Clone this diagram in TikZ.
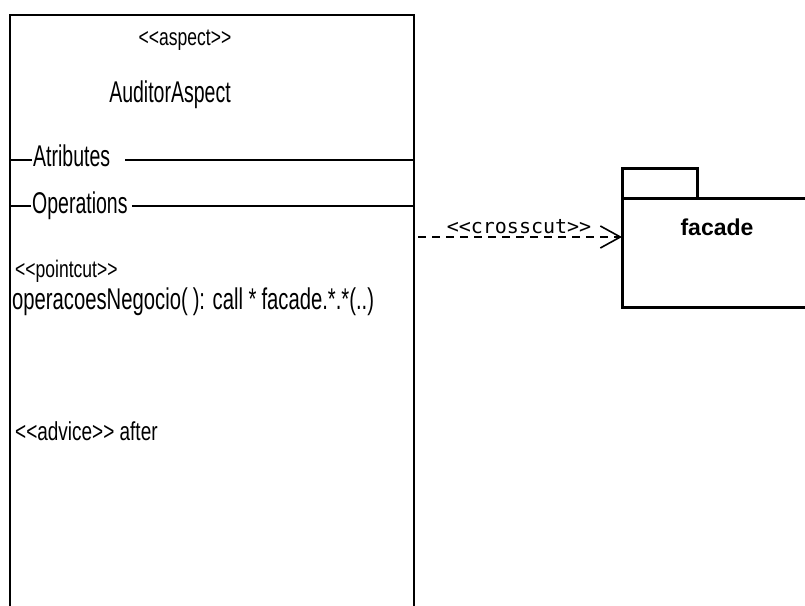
\documentclass[tikz,border=0pt]{standalone}
\usepackage{fontspec}
\usetikzlibrary{arrows.meta}
% narrow sans faces for the class compartments
\newfontfamily\umlbig{Liberation Sans}[FakeStretch=0.65]
\newfontfamily\umlwide{Liberation Sans}[FakeStretch=0.675]
\newfontfamily\umlsmall{Liberation Sans}[FakeStretch=0.73]
\newfontfamily\umlmono{DejaVu Sans Mono}
\newfontfamily\umlpkg{Liberation Sans}
% guillemet-like stereotype brackets (kerns keep << from becoming a ligature)
\newcommand\stereo[1]{<\kern0pt<#1>\kern0pt>}
\begin{document}
\begin{tikzpicture}[x=1pt,y=-1pt,
  bigtext/.style={font=\umlbig\fontsize{30}{34}\selectfont, inner sep=0pt},
  deftext/.style={font=\umlwide\fontsize{30}{34}\selectfont, inner sep=0pt},
  smalltext/.style={font=\umlsmall\fontsize{24}{28}\selectfont, inner sep=0pt},
  midtext/.style={font=\umlsmall\fontsize{26}{30}\selectfont, inner sep=0pt},
  classbox/.style={draw, line width=2pt, inner sep=0pt, outer sep=0pt, anchor=north west},
  pkgbox/.style={draw, line width=3pt, inner sep=0pt, outer sep=0pt, anchor=north west},
  sepline/.style={line width=1.6pt},
  dep/.style={line width=1.4pt, dash pattern=on 8pt off 6pt,
    -{Straight Barb[length=20pt,width=22pt,line width=1.6pt]}},
]
\useasboundingbox (0,0) rectangle (805,605);
\clip (0,0) rectangle (805,605);

% aspect class, open at the bottom of the page
\node[classbox, minimum width=404pt, minimum height=640pt] (cls) at (10,15) {};

\node[smalltext, anchor=base] (stype) at (185,45) {\stereo{aspect}};
\node[bigtext, anchor=base] (cname) at (170,102) {AuditorAspect};

\node[bigtext, anchor=base west] (attr) at (33,166) {Atributes};
\node[bigtext, anchor=base west] (ops) at (32,213) {Operations};

\draw[sepline] (cls.west |- 0,160) -- ([xshift=-1pt]attr.west |- 0,160);
\draw[sepline] ([xshift=15pt]attr.east |- 0,160) -- (cls.east |- 0,160);
\draw[sepline] (cls.west |- 0,206) -- ([xshift=-1pt]ops.west |- 0,206);
\draw[sepline] ([xshift=4pt]ops.east |- 0,206) -- (cls.east |- 0,206);

\node[smalltext, anchor=base west] (pcut) at (15,277) {\stereo{pointcut}};
\node[deftext, anchor=base west] (pdef) at (12,309)
  {operacoesNegocio(\,): call *\,facade.*.*(..)};
\node[midtext, anchor=base west] (adv) at (15,440) {\stereo{advice} after};

% facade package
\node[pkgbox, minimum width=75pt, minimum height=30pt] (tab) at (622,168) {};
\node[pkgbox, minimum width=220pt, minimum height=109pt] (pkg) at (622,198) {};
\node[font=\umlpkg\bfseries\fontsize{23}{27}\selectfont, inner sep=0pt, anchor=base]
  (pname) at (717,235) {facade};

% crosscut dependency
\coordinate (src) at (418,237);
\coordinate (tip) at (pkg.west |- src);
\draw[dep] (src) -- (tip);
\node[font=\umlmono\fontsize{20}{24}\selectfont, inner sep=0pt, anchor=base]
  (xlabel) at (519,233) {\stereo{crosscut}};
\end{tikzpicture}
\end{document}
